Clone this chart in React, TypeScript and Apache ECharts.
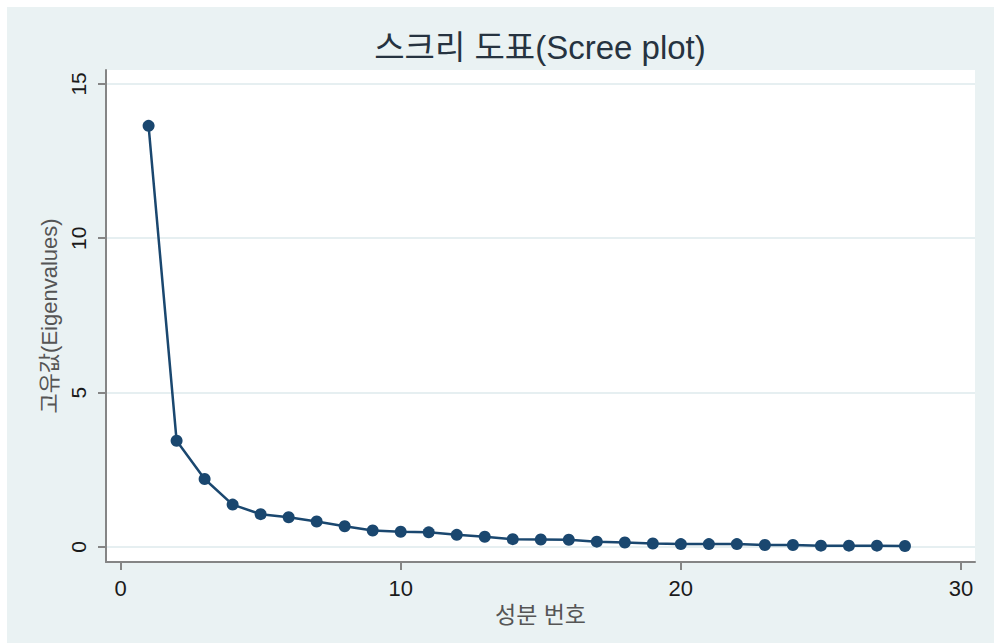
import React, { useEffect, useRef } from "react";
import * as echarts from "echarts";

const titleText = "스크리 도표(Scree plot)";
const xAxisTitle = "성분 번호";
const yAxisTitle = "고유값(Eigenvalues)";

const componentNumbers = [1, 2, 3, 4, 5, 6, 7, 8, 9, 10, 11, 12, 13, 14, 15, 16, 17, 18, 19, 20, 21, 22, 23, 24, 25, 26, 27, 28];
const eigenvalues = [13.64, 3.44, 2.2, 1.37, 1.06, 0.96, 0.82, 0.67, 0.53, 0.49, 0.47, 0.39, 0.33, 0.25, 0.24, 0.23, 0.17, 0.14, 0.11, 0.09, 0.09, 0.09, 0.06, 0.06, 0.04, 0.04, 0.04, 0.03];

const xTicks = [0, 10, 20, 30];
const yTicks = [0, 5, 10, 15];

const FONT = '"Liberation Sans", Arial, "Noto Sans CJK KR", sans-serif';

export default function App() {
  const ref = useRef<HTMLDivElement>(null);
  useEffect(() => {
    if (!ref.current) return;
    const chart = echarts.init(ref.current, null, { renderer: "svg" });
    const points = componentNumbers.map((c, i) => [c, eigenvalues[i]]);
    const axisColor = "#858585";
    chart.setOption({
      animation: false,
      backgroundColor: "#eaf2f3",
      textStyle: { fontFamily: FONT },
      graphic: [
        {
          type: "text",
          x: 533,
          y: 40,
          style: {
            text: titleText,
            fontSize: 33,
            fontFamily: FONT,
            fill: "#263340",
            textAlign: "center",
            textVerticalAlign: "middle",
          },
        },
      ],
      grid: {
        left: 99,
        top: 63,
        right: 19,
        bottom: 81,
        show: true,
        backgroundColor: "#ffffff",
        borderWidth: 0,
      },
      xAxis: {
        type: "value",
        min: -0.52,
        max: 30.5,
        name: xAxisTitle,
        nameLocation: "middle",
        nameGap: 34,
        nameTextStyle: { fontSize: 23, color: "#555", fontFamily: FONT },
        axisLine: { show: true, onZero: false, lineStyle: { color: axisColor, width: 2 } },
        axisTick: { show: true, length: 8, customValues: xTicks, lineStyle: { color: axisColor, width: 2 } },
        axisLabel: { customValues: xTicks, fontSize: 22, color: "#1a1a1a", margin: 15, fontFamily: FONT },
        splitLine: { show: false },
      },
      yAxis: {
        type: "value",
        min: -0.49,
        max: 15.45,
        name: yAxisTitle,
        nameLocation: "middle",
        nameRotate: 90,
        nameGap: 46,
        nameTextStyle: { fontSize: 22, color: "#555", fontFamily: FONT },
        axisLine: { show: true, onZero: false, lineStyle: { color: axisColor, width: 2 } },
        axisTick: { show: true, length: 8, customValues: yTicks, lineStyle: { color: axisColor, width: 2 } },
        axisLabel: { customValues: yTicks, rotate: 90, fontSize: 21, color: "#1a1a1a", margin: 17, fontFamily: FONT },
        splitLine: { show: true, lineStyle: { color: "#e6eff1", width: 2 } },
      },
      series: [
        {
          type: "line",
          data: points,
          symbol: "circle",
          symbolSize: 12,
          showSymbol: true,
          lineStyle: { color: "#1a476f", width: 2.5 },
          itemStyle: { color: "#1a476f" },
          z: 3,
        },
      ],
    });
    return () => chart.dispose();
  }, []);
  return (
    <div style={{ position: "fixed", left: 0, top: 0, width: 994, height: 643, background: "#ffffff" }}>
      <div ref={ref} style={{ position: "absolute", left: 7, top: 7, width: 987, height: 636 }} />
    </div>
  );
}
